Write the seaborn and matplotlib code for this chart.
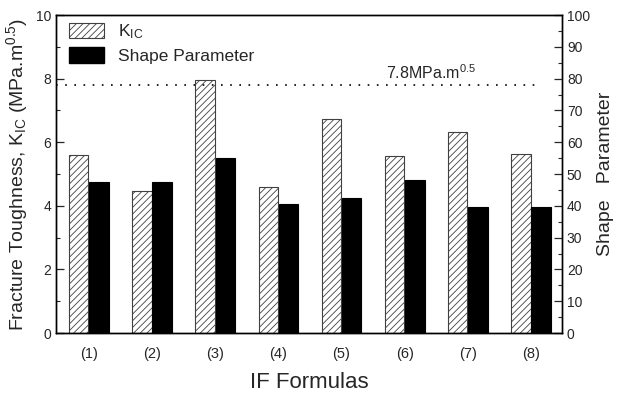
import matplotlib
matplotlib.use("Agg")
import matplotlib.pyplot as plt
from matplotlib.patches import Patch
from matplotlib.ticker import MultipleLocator
import seaborn as sns
import pandas as pd

formulas = ["(1)", "(2)", "(3)", "(4)", "(5)", "(6)", "(7)", "(8)"]
kic_values = [5.60, 4.47, 7.96, 4.58, 6.73, 5.58, 6.33, 5.63]
shape_values = [47.6, 47.6, 54.9, 40.6, 42.4, 48.1, 39.7, 39.7]
series_names = ["K_IC", "Shape Parameter"]
reference_kic = 7.8

sns.set_style("ticks")
plt.rcParams["font.family"] = ["Liberation Sans", "DejaVu Sans"]
plt.rcParams["mathtext.fontset"] = "custom"
plt.rcParams["mathtext.rm"] = "Liberation Sans"
plt.rcParams["mathtext.it"] = "Liberation Sans:italic"
plt.rcParams["mathtext.bf"] = "Liberation Sans:bold"
plt.rcParams["hatch.linewidth"] = 0.6
plt.rcParams["hatch.color"] = "0.3"

df_k = pd.DataFrame({"formula": formulas, "value": kic_values, "series": series_names[0]})
df_s = pd.DataFrame({"formula": formulas, "value": shape_values, "series": series_names[1]})

fig = plt.figure(figsize=(6.2, 3.99), dpi=100)
ax = fig.add_axes([0.0903, 0.1654, 0.8162, 0.797])
ax2 = ax.twinx()

palette = {series_names[0]: "white", series_names[1]: "black"}
sns.barplot(data=df_k, x="formula", y="value", hue="series", hue_order=series_names,
            palette=palette, width=0.64, gap=0.04, dodge=True, edgecolor="0.25", linewidth=0.8,
            ax=ax, legend=False, order=formulas)
for p in ax.patches:
    p.set_hatch("/////")
sns.barplot(data=df_s, x="formula", y="value", hue="series", hue_order=series_names,
            palette=palette, width=0.64, gap=0.04, dodge=True, edgecolor="black", linewidth=0.8,
            ax=ax2, legend=False, order=formulas)

ax.set_xlim(-0.52, 7.49)
ax.set_ylim(0, 10)
ax2.set_ylim(0, 100)

ax.yaxis.set_major_locator(MultipleLocator(2))
ax.yaxis.set_minor_locator(MultipleLocator(1))
ax2.yaxis.set_major_locator(MultipleLocator(10))
ax2.yaxis.set_minor_locator(MultipleLocator(5))

for a in (ax, ax2):
    for s in a.spines.values():
        s.set_visible(True)
        s.set_linewidth(1.0)
        s.set_color("black")
    a.tick_params(axis="y", which="major", direction="in", length=6, width=0.9, labelsize=10)
    a.tick_params(axis="y", which="minor", direction="in", length=3, width=0.8)
ax.tick_params(axis="x", length=0, labelsize=10.5, pad=10)

ax.axhline(reference_kic, xmin=0, xmax=0.956, color="black",
           linestyle=(0, (1, 4.5)), linewidth=1.2)
ax.text(0.652, 0.82, r"7.8MPa.m$^{0.5}$", transform=ax.transAxes,
        ha="left", va="center", fontsize=11.5)

ax.set_xlabel("IF Formulas", fontsize=16, labelpad=8)
ax.set_ylabel(r"Fracture Toughness, K$_{\mathrm{IC}}$ (MPa.m$^{0.5}$)", fontsize=14, labelpad=4)
ax2.set_ylabel("Shape   Parameter", fontsize=14, labelpad=5)

handles = [Patch(facecolor="white", edgecolor="0.25", hatch="/////", linewidth=0.8),
           Patch(facecolor="black", edgecolor="black")]
ax2.legend(handles, [r"K$_{\mathrm{IC}}$", "Shape Parameter"], loc="upper left",
           frameon=False, fontsize=12.5, handlelength=2.0, handleheight=1.0,
           bbox_to_anchor=(0.005, 1.01), borderaxespad=0.2, labelspacing=0.35)

fig.savefig("out.png", dpi=100)
